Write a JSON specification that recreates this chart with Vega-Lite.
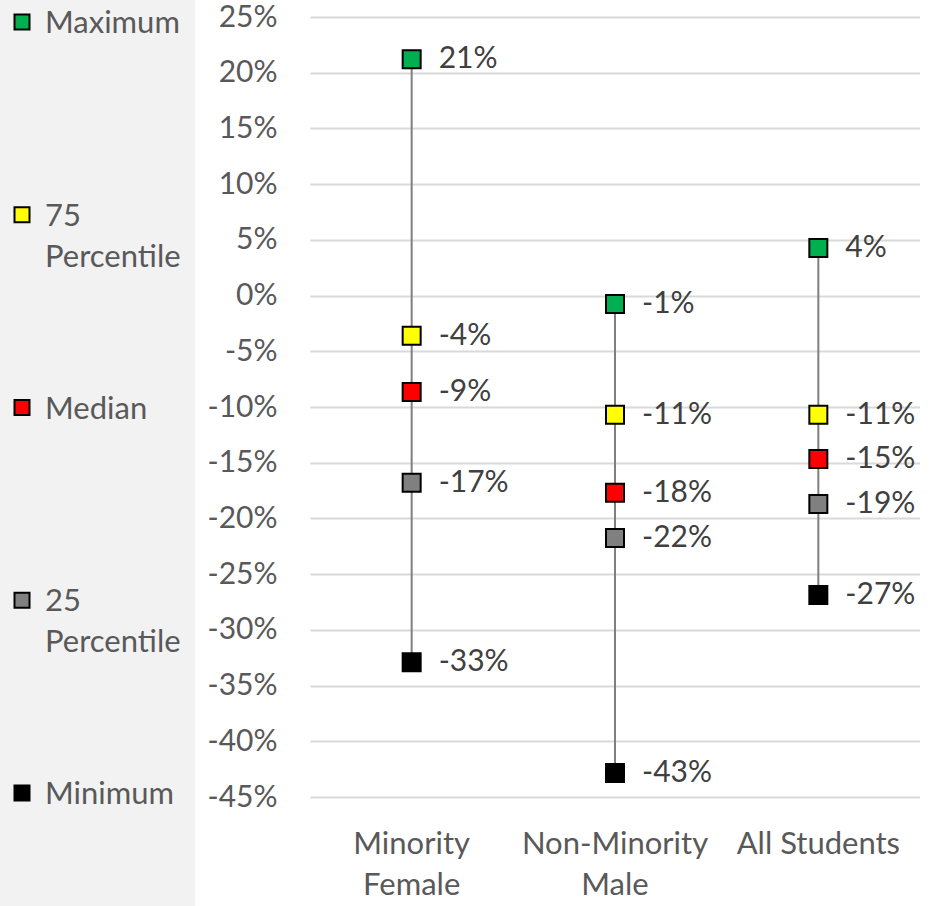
{
  "$schema": "https://vega.github.io/schema/vega-lite/v6.json",
  "padding": 0,
  "background": "white",
  "bounds": "flush",
  "spacing": 115,
  "config": {
    "font": "Lato",
    "locale": {"number": {"decimal": ".", "thousands": ",", "grouping": [3], "currency": ["$", ""], "minus": "-"}},
    "view": {"stroke": null}
  },
  "datasets": {
    "stats": [
      {"stat": "Maximum"},
      {"stat": "75 Percentile"},
      {"stat": "Median"},
      {"stat": "25 Percentile"},
      {"stat": "Minimum"}
    ],
    "vals": [
      {"group": "Minority Female", "stat": "Maximum", "value": 0.212},
      {"group": "Minority Female", "stat": "75 Percentile", "value": -0.036},
      {"group": "Minority Female", "stat": "Median", "value": -0.0865},
      {"group": "Minority Female", "stat": "25 Percentile", "value": -0.168},
      {"group": "Minority Female", "stat": "Minimum", "value": -0.329},
      {"group": "Non-Minority Male", "stat": "Maximum", "value": -0.0075},
      {"group": "Non-Minority Male", "stat": "75 Percentile", "value": -0.107},
      {"group": "Non-Minority Male", "stat": "Median", "value": -0.177},
      {"group": "Non-Minority Male", "stat": "25 Percentile", "value": -0.2176},
      {"group": "Non-Minority Male", "stat": "Minimum", "value": -0.4285},
      {"group": "All Students", "stat": "Maximum", "value": 0.0427},
      {"group": "All Students", "stat": "75 Percentile", "value": -0.107},
      {"group": "All Students", "stat": "Median", "value": -0.1467},
      {"group": "All Students", "stat": "25 Percentile", "value": -0.187},
      {"group": "All Students", "stat": "Minimum", "value": -0.2687}
    ]
  },
  "hconcat": [
    {
      "width": 195,
      "height": 906,
      "view": {"fill": "#f2f2f2", "stroke": null},
      "data": {"name": "stats"},
      "encoding": {
        "y": {
          "field": "stat",
          "type": "nominal",
          "scale": {"type": "point", "padding": 0, "domain": ["Maximum", "75 Percentile", "Median", "25 Percentile", "Minimum"], "range": [22, 793]},
          "axis": null
        }
      },
      "layer": [
        {
          "mark": {"type": "point", "shape": "square", "filled": true, "size": 225, "stroke": "black", "strokeWidth": 2, "opacity": 1},
          "encoding": {
            "x": {"value": 22},
            "color": {
              "field": "stat",
              "type": "nominal",
              "scale": {"domain": ["Maximum", "75 Percentile", "Median", "25 Percentile", "Minimum"], "range": ["#00b050", "#ffff00", "#ff0000", "#808080", "#000000"]},
              "legend": null
            }
          }
        },
        {
          "mark": {"type": "text", "align": "left", "baseline": "alphabetic", "dy": 11, "fontSize": 31, "lineBreak": " ", "lineHeight": 41, "color": "#595959"},
          "encoding": {
            "x": {"value": 45},
            "text": {"field": "stat"}
          }
        }
      ]
    },
    {
      "width": 610,
      "height": 797,
      "data": {"name": "vals"},
      "encoding": {
        "x": {
          "field": "group",
          "type": "nominal",
          "sort": ["Minority Female", "Non-Minority Male", "All Students"],
          "scale": {"paddingInner": 0, "paddingOuter": 0},
          "axis": {
            "title": null,
            "labelAngle": 0,
            "ticks": false,
            "domain": false,
            "labelFontSize": 31,
            "labelColor": "#595959",
            "labelPadding": 32,
            "labelLineHeight": 41,
            "labelLimit": 400,
            "labelExpr": "datum.label == 'All Students' ? datum.label : split(datum.label, ' ')"
          }
        }
      },
      "layer": [
        {
          "mark": {"type": "rule", "color": "#7f7f7f", "strokeWidth": 2},
          "encoding": {
            "y": {"aggregate": "min", "field": "value", "type": "quantitative", "scale": {"domain": [-0.45, 0.26526], "nice": false, "zero": false},
              "axis": {
                "title": null,
                "format": ".0%",
                "values": [-0.45, -0.4, -0.35, -0.3, -0.25, -0.2, -0.15, -0.1, -0.05, 0, 0.05, 0.1, 0.15, 0.2, 0.25],
                "ticks": false,
                "domain": false,
                "grid": true,
                "gridColor": "#d9d9d9",
                "gridWidth": 2,
                "labelFontSize": 30,
                "labelColor": "#595959",
                "labelPadding": 33
              }
            },
            "y2": {"aggregate": "max", "field": "value"}
          }
        },
        {
          "mark": {"type": "point", "shape": "square", "filled": true, "size": 324, "stroke": "black", "strokeWidth": 2, "opacity": 1},
          "encoding": {
            "y": {"field": "value", "type": "quantitative"},
            "color": {"field": "stat", "type": "nominal", "legend": null}
          }
        },
        {
          "mark": {"type": "text", "align": "left", "baseline": "middle", "dx": 27, "fontSize": 30, "color": "#404040"},
          "encoding": {
            "y": {"field": "value", "type": "quantitative"},
            "text": {"field": "value", "type": "quantitative", "format": ".0%"}
          }
        }
      ]
    }
  ]
}
